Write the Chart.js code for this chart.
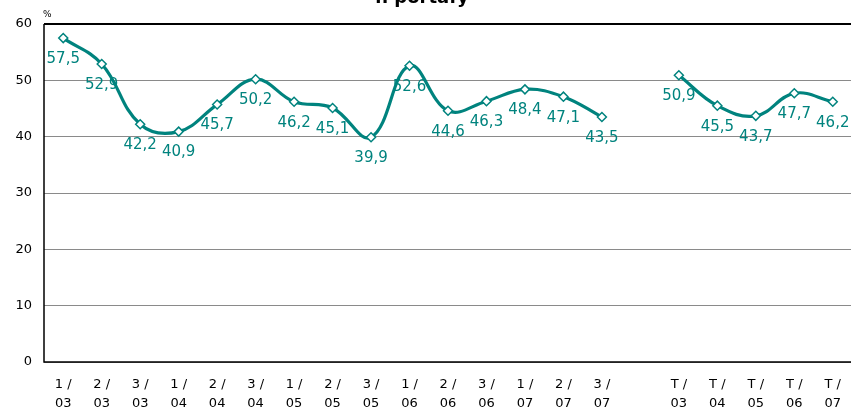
<!DOCTYPE html>
<html>
<head>
<meta charset="utf-8">
<script src="https://cdn.jsdelivr.net/npm/chart.js@4/dist/chart.umd.min.js"></script>
<style>
  html, body { margin: 0; padding: 0; background: #fff; overflow: hidden; }
  #wrap { width: 851px; height: 411px; position: relative; overflow: hidden; }
  #lineChart { position: absolute; left: 0; top: 0; }
</style>
</head>
<body>
<div id="wrap"><canvas id="lineChart" width="858" height="411"></canvas></div>
<script>
// categories (blank slot separates quarters from the yearly totals)
var quarters = ["1 /", "2 /", "3 /", "1 /", "2 /", "3 /", "1 /", "2 /", "3 /",
                "1 /", "2 /", "3 /", "1 /", "2 /", "3 /", "", "T /", "T /", "T /", "T /", "T /"];
var years = ["03", "03", "03", "04", "04", "04", "05", "05", "05",
             "06", "06", "06", "07", "07", "07", "", "03", "04", "05", "06", "07"];
var values = [57.5, 52.9, 42.2, 40.9, 45.7, 50.2, 46.2, 45.1, 39.9,
              52.6, 44.6, 46.3, 48.4, 47.1, 43.5, null, 50.9, 45.5, 43.7, 47.7, 46.2];
var yTicks = [0, 10, 20, 30, 40, 50, 60];

var teal = '#00837e';

var labels = quarters.map(function (q, i) { return [q, years[i]]; });

/** axis frame, value labels, title, unit **/
var extras = {
    id: 'extras',
    beforeDatasetsDraw: function (chart) {
        var ctx = chart.ctx, a = chart.chartArea;
        ctx.save();
        ctx.strokeStyle = '#000';
        ctx.lineWidth = 1.5;
        ctx.beginPath();
        ctx.moveTo(a.left, a.top);
        ctx.lineTo(a.left, a.bottom);
        ctx.lineTo(a.right + 2, a.bottom);
        ctx.stroke();
        ctx.restore();
    },
    afterDatasetsDraw: function (chart) {
        var ctx = chart.ctx;
        var meta = chart.getDatasetMeta(0);
        ctx.save();
        ctx.font = '15px "DejaVu Sans"';
        ctx.fillStyle = teal;
        ctx.textAlign = 'center';
        ctx.textBaseline = 'middle';
        meta.data.forEach(function (pt, i) {
            if (values[i] === null) return;
            var txt = values[i].toFixed(1).replace('.', ',');
            ctx.fillText(txt, pt.x, pt.y + 21);
        });
        ctx.restore();
    },
    afterDraw: function (chart) {
        var ctx = chart.ctx;
        ctx.save();
        ctx.fillStyle = '#000';
        ctx.font = '9px "DejaVu Sans"';
        ctx.textAlign = 'left';
        ctx.textBaseline = 'alphabetic';
        ctx.fillText('%', 43, 17);
        ctx.font = 'bold 18px "DejaVu Sans"';
        ctx.textAlign = 'center';
        ctx.fillText('n portafy', 422, 3);
        ctx.restore();
    }
};

var ctx = document.getElementById("lineChart").getContext("2d");
new Chart(ctx, {
    type: 'line',
    data: {
        labels: labels,
        datasets: [{
            data: values,
            borderColor: teal,
            borderWidth: 3.2,
            tension: 0.4,
            spanGaps: false,
            pointStyle: 'rectRot',
            pointRadius: 4.5,
            pointBorderWidth: 1.5,
            pointBackgroundColor: '#fff',
            pointBorderColor: teal
        }]
    },
    options: {
        responsive: false,
        animation: false,
        layout: { padding: { top: 24, right: 0, left: 0, bottom: 0 } },
        plugins: {
            legend: { display: false },
            tooltip: { enabled: false },
            title: { display: false }
        },
        scales: {
            x: {
                offset: true,
                grid: { display: false, drawTicks: false },
                border: { display: false },
                ticks: {
                    color: '#000',
                    font: { family: 'DejaVu Sans', size: 13, lineHeight: 1.4 },
                    maxRotation: 0,
                    autoSkip: false,
                    padding: 14
                },
                afterFit: function (scale) { scale.height = 49; }
            },
            y: {
                min: 0,
                max: 60,
                afterBuildTicks: function (scale) {
                    scale.ticks = yTicks.map(function (v) { return { value: v }; });
                },
                grid: {
                    color: function (c) { return c.tick.value === 60 ? '#000' : '#8a8a8a'; },
                    lineWidth: function (c) { return c.tick.value === 60 ? 2 : 1; },
                    drawTicks: false
                },
                border: { display: false },
                ticks: {
                    color: '#000',
                    font: { family: 'DejaVu Sans', size: 13 },
                    padding: 12
                },
                afterFit: function (scale) { scale.width = 44; }
            }
        }
    },
    plugins: [extras]
});
</script>
</body>
</html>
